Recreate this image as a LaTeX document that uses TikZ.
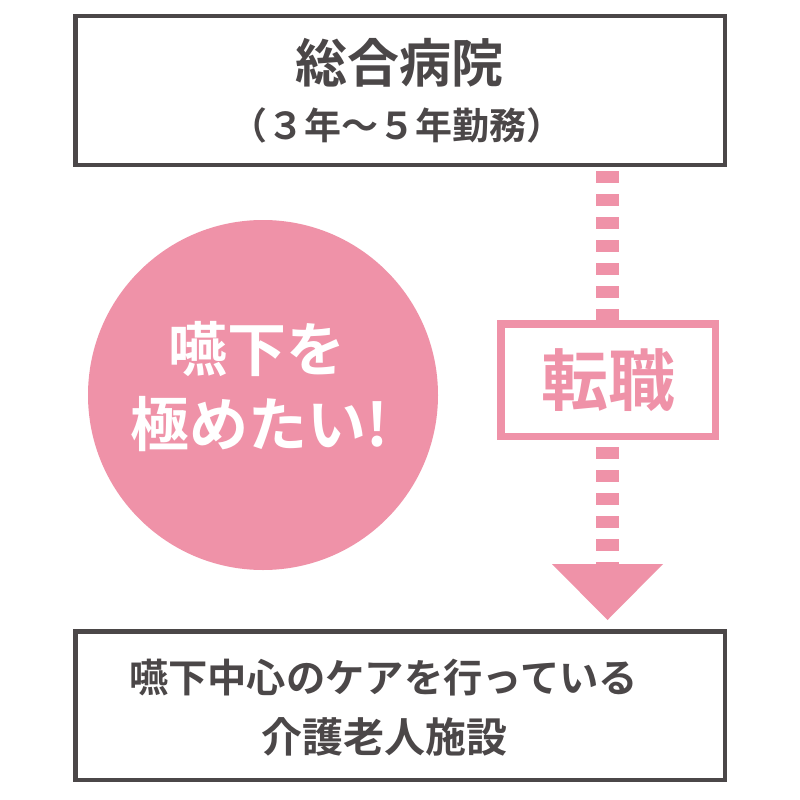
\documentclass[tikz,border=0pt]{standalone}
\usepackage{fontspec}
\setmainfont{Noto Sans CJK JP Bold}
\definecolor{pinkc}{HTML}{EF92A8}
\definecolor{grayc}{HTML}{4B4748}
\begin{document}
\begin{tikzpicture}[x=1pt,y=-1pt,
  graybox/.style={draw=grayc,line width=4.5pt,minimum width=649.5pt,minimum height=148.5pt,inner sep=0pt,align=center,text=grayc},
  dashline/.style={pinkc,line width=23pt,dash pattern=on 11.5pt off 11.5pt}]
\useasboundingbox (0,0) rectangle (800,800);
\fill[white] (0,0) rectangle (800,800);
% top box
\node[graybox] (top) at (400,90.5) {};
\node[text=grayc,font=\fontsize{52}{52}\selectfont,inner sep=0pt] (title) at (399,63) {総合病院};
\node[text=grayc,font=\fontsize{37}{37}\selectfont,inner sep=0pt] (sub) at (397,125) {（３年～５年勤務）};
% bottom box
\node[graybox] (bot) at (400,705.5) {};
\node[text=grayc,font=\fontsize{39.3}{39.3}\selectfont,inner sep=0pt] (b1) at (383.5,678) {嚥下中心のケアを行っている};
\node[text=grayc,font=\fontsize{41}{41}\selectfont,inner sep=0pt] (b2) at (384.5,737) {介護老人施設};
% circle
\node[circle,fill=pinkc,minimum size=350pt,inner sep=0pt] (circ) at (263,395) {};
\node[text=white,font=\fontsize{59}{59}\selectfont,inner sep=0pt] (c1) at (256.5,349) {嚥下を};
\node[text=white,font=\fontsize{59}{59}\selectfont,inner sep=0pt] (c2) at (259.5,424) {極めたい!};
% middle box
\node[draw=pinkc,line width=7.5pt,minimum width=214.5pt,minimum height=112.5pt,inner sep=0pt,text=pinkc,font=\fontsize{67}{67}\selectfont] (mid) at (608,380) {転職};
% connectors
\coordinate (d1s) at (607.5,171);
\coordinate (d2s) at (607.5,447);
\coordinate (tip) at (607.5,620);
\draw[dashline] (d1s) -- (d1s |- mid.north);
\draw[dashline] (d2s) -- (607.5,575);
\fill[pinkc] (552,564) -- (663,564) -- (tip) -- cycle;
\end{tikzpicture}
\end{document}
